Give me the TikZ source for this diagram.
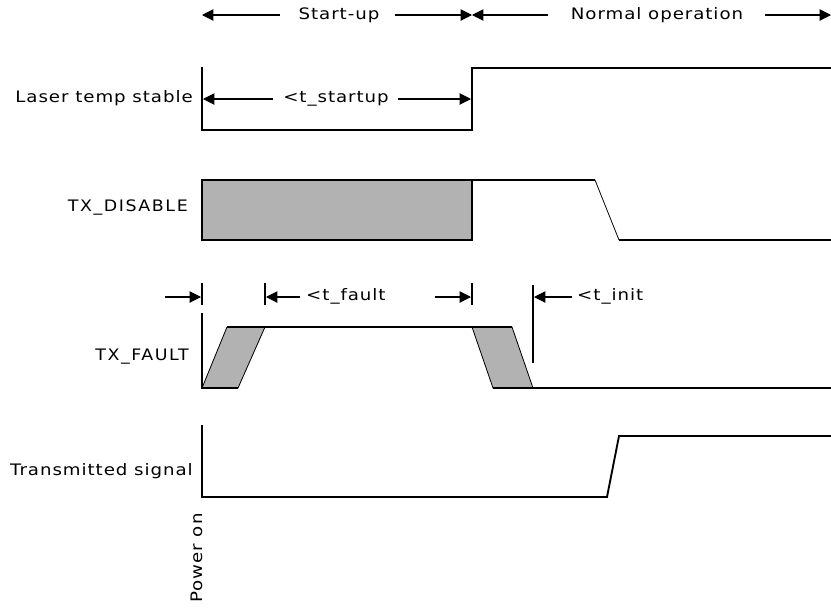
\documentclass[tikz,border=0pt]{standalone}
\usepackage{fontspec}
\setmainfont{DejaVu Sans}[FakeStretch=1.15,LetterSpace=6]
\newfontfamily\sigfont{DejaVu Sans}[FakeStretch=1.1,LetterSpace=10]
\usetikzlibrary{arrows.meta}

\begin{document}
\begin{tikzpicture}[
  x=0.03cm, y=-0.03cm,
  font=\fontsize{13.5}{16}\selectfont,
  wave/.style={line width=1.6pt, draw=black},
  slope/.style={line width=0.7pt, draw=black},
  dim/.style={line width=0.9pt, -{Triangle[length=3.4mm,width=3.4mm]}},
  tickline/.style={line width=0.9pt},
  sig/.style={anchor=east, inner sep=0pt},
  dimtxt/.style={inner sep=0pt},
  busy/.style={fill=black!30}
]
  \useasboundingbox (0,0) rectangle (831,607);

  % --- FASES (arriba) ---
  \coordinate (on_top)  at (202,15);
  \coordinate (su_a)    at (280,15);
  \coordinate (su_b)    at (395,15);
  \coordinate (mid_top) at (472,15);
  \coordinate (no_a)    at (548,15);
  \coordinate (no_b)    at (765,15);
  \coordinate (end_top) at (831,15);
  \node[dimtxt] (startup) at (339,15) {Start-up};
  \node[dimtxt] (normal)  at (657,15) {Normal operation};
  \draw[dim] (su_a) -- (on_top);
  \draw[dim] (su_b) -- (mid_top);
  \draw[dim] (no_a) -- (mid_top);
  \draw[dim] (no_b) -- (end_top);

  % --- Laser temp stable ---
  \node[sig] (laser) at (193,98) {Laser temp stable};
  \draw[wave] (202,67) -- (202,130) -- (472,130) -- (472,68) -- (831,68);
  \coordinate (ls_l)  at (203,99);
  \coordinate (ls_a)  at (273,99);
  \coordinate (ls_b)  at (398,99);
  \coordinate (ls_r)  at (471,99);
  \node[dimtxt] (tstart) at (336,99) {<t\_startup};
  \draw[dim] (ls_a) -- (ls_l);
  \draw[dim] (ls_b) -- (ls_r);

  % --- TX_DISABLE ---
  \node[sig, font=\sigfont\fontsize{13.5}{16}\selectfont] (txdis) at (188,207) {TX\_DISABLE};
  \draw[wave, busy] (202,180) rectangle (472,240);
  \draw[wave] (472,180) -- (595,180);
  \draw[slope] (595,180) -- (619,240);
  \draw[wave] (619,240) -- (831,240);

  % --- TX_FAULT ---
  \node[sig, font=\sigfont\fontsize{13.5}{16}\selectfont] (txflt) at (189,357) {TX\_FAULT};
  \draw[slope, busy] (202,388) -- (227,327) -- (265,327) -- (238,388) -- cycle;
  \draw[slope, busy] (472,327) -- (512,327) -- (533,388) -- (493,388) -- cycle;
  \draw[wave] (202,313) -- (202,388) -- (238,388);
  \draw[wave] (227,327) -- (512,327);
  \draw[wave] (493,388) -- (831,388);

  % marcas de tiempo
  \draw[tickline] (202,283) -- (202,305);
  \draw[tickline] (265,283) -- (265,305);
  \draw[tickline] (472,283) -- (472,305);
  \draw[tickline] (533,285) -- (533,363);
  \coordinate (f0_a) at (165,297);
  \coordinate (f0_b) at (201,297);
  \coordinate (f1_a) at (300,297);
  \coordinate (f1_b) at (266,297);
  \coordinate (f2_a) at (435,297);
  \coordinate (f2_b) at (471,297);
  \coordinate (f3_a) at (572,297);
  \coordinate (f3_b) at (534,297);
  \draw[dim] (f0_a) -- (f0_b);
  \draw[dim] (f1_a) -- (f1_b);
  \draw[dim] (f2_a) -- (f2_b);
  \draw[dim] (f3_a) -- (f3_b);
  \node[dimtxt, anchor=west] (tfault) at (306,296) {<t\_fault};
  \node[dimtxt, anchor=west] (tinit)  at (577,296) {<t\_init};

  % --- Transmitted signal ---
  \node[sig] (txsig) at (193,471) {Transmitted signal};
  \draw[wave] (202,425) -- (202,497) -- (607,497) -- (619,436) -- (831,436);

  % Etiqueta
  \node[dimtxt, rotate=90] (pwron) at (197,558) {Power on};
\end{tikzpicture}
\end{document}
